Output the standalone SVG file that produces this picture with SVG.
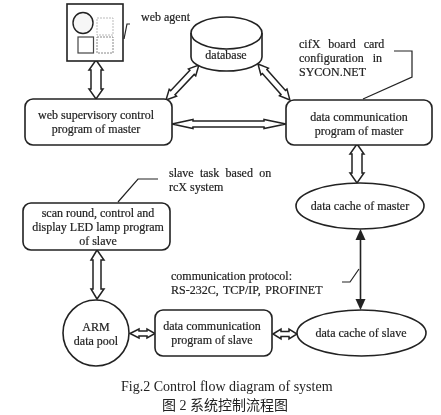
<svg xmlns="http://www.w3.org/2000/svg" width="441" height="415" viewBox="0 0 441 415">
<style>
.s{fill:none;stroke:#222;stroke-width:1.6}
.n{fill:#fff;stroke:#222;stroke-width:1.6}
.d{fill:#fff;stroke:#222;stroke-width:1.5}
.l{fill:none;stroke:#222;stroke-width:1.2}
text{font-family:"Liberation Serif","Noto Sans CJK SC",serif;font-size:12px;fill:#222;stroke:#222;stroke-width:.2}
.m{text-anchor:middle}
.c{font-size:14px;stroke-width:0}
</style>
<defs>
<filter id="b" x="-5%" y="-5%" width="110%" height="110%"><feGaussianBlur stdDeviation="0.35"/></filter>
</defs>
<rect width="441" height="415" fill="#fff"/>
<g filter="url(#b)">
<g id="connectors">
<polygon class="d" points="96,60 103,70 101,70 101,89 103,89 96,99 89,89 91,89 91,70 89,70"/>
<polygon class="d" transform="translate(166,100) rotate(-46.7)" points="0,0 10,-5 10,-3 38,-3 38,-5 48,0 38,5 38,3 10,3 10,5"/>
<polygon class="d" transform="translate(258,64) rotate(48.4)" points="0,0 10,-5 10,-3 38,-3 38,-5 48,0 38,5 38,3 10,3 10,5"/>
<polygon class="d" points="172,124 193,119.5 193,121 264,121 264,119.5 286,124 264,128.5 264,127 193,127 193,128.5"/>
<polygon class="d" points="357,144 364,154 362,154 362,173 364,173 357,183 350,173 352,173 352,154 350,154"/>
<polygon class="d" points="97,250 104,260 101,260 101,289 104,289 97,299 91,289 93,289 93,260 91,260"/>
<polygon class="d" points="130,333.5 139,329 139,331 147,331 147,329 155,333.5 147,338 147,336 139,336 139,338"/>
<polygon class="d" points="273,334 281,329 281,331.5 289,331.5 289,329 297,334 289,339 289,336.5 281,336.5 281,339"/>
<path d="M360.5 238V302" fill="none" stroke="#222" stroke-width="1.6"/>
<polygon points="360.5,229 365.5,240 355.5,240" fill="#222"/>
<polygon points="360.5,310 365.5,299 355.5,299" fill="#222"/>
<path class="l" d="M124 39L127 24H130"/>
<path class="l" d="M118 202L138 179H158"/>
<path class="l" d="M363 99L412 77V51H394"/>
<path class="l" d="M342 282H350L359 269"/>
</g>
<g id="web-agent">
<rect class="n" x="67" y="4" width="56" height="57"/>
<ellipse cx="83" cy="23" rx="10" ry="10.5" fill="#f6f6f6" stroke="#222" stroke-width="1.4"/>
<rect x="97" y="18" width="16" height="17" fill="#fff" stroke="#bbb" stroke-dasharray="2 1"/>
<rect x="78" y="37" width="15.500" height="16" fill="#fff" stroke="#444" stroke-width="1.2"/>
<rect x="97" y="37" width="16" height="16" fill="#fff" stroke="#888" stroke-dasharray="2 1"/>
<text x="141" y="21">web agent</text>
</g>
<g id="database">
<path class="n" d="M191 33A35.500 16 0 0 1 262 33V57A35.500 14 0 0 1 191 57Z"/>
<path class="s" d="M191 33A35.500 16 0 0 0 262 33"/>
<text class="m" x="226" y="59">database</text>
</g>
<g id="web-supervisory">
<rect class="n" x="25" y="99" width="147" height="46" rx="8"/>
<text class="m" x="96" y="119">web supervisory control</text>
<text class="m" x="96" y="133">program of master</text>
</g>
<g id="data-comm-master">
<rect class="n" x="286" y="100" width="146" height="45" rx="8"/>
<text class="m" x="359" y="121">data communication</text>
<text class="m" x="359" y="135">program of master</text>
</g>
<g id="cifx-note">
<text x="299" y="48" word-spacing="5">cifX board card</text>
<text x="299" y="62" word-spacing="6">configuration in</text>
<text x="299" y="76">SYCON.NET</text>
</g>
<g id="slave-task-note">
<text x="169" y="177" word-spacing="3.300">slave task based on</text>
<text x="169" y="191">rcX system</text>
</g>
<g id="scan-round">
<rect class="n" x="23" y="203" width="147" height="47" rx="8"/>
<text class="m" x="98" y="217">scan round, control and</text>
<text class="m" x="98" y="231">display LED lamp program</text>
<text class="m" x="98" y="245">of slave</text>
</g>
<g id="data-cache-master">
<ellipse class="n" cx="360" cy="206" rx="64" ry="23"/>
<text class="m" x="360" y="210">data cache of master</text>
</g>
<g id="protocol-note">
<text x="171" y="280">communication protocol:</text>
<text x="171" y="294" word-spacing="1.500">RS-232C, TCP/IP, PROFINET</text>
</g>
<g id="arm-data-pool">
<circle class="n" cx="96" cy="333" r="33"/>
<text class="m" x="96" y="331">ARM</text>
<text class="m" x="96" y="345">data pool</text>
</g>
<g id="data-comm-slave">
<rect class="n" x="155" y="310" width="117" height="46" rx="8"/>
<text class="m" x="212" y="330">data communication</text>
<text class="m" x="212" y="344">program of slave</text>
</g>
<g id="data-cache-slave">
<ellipse class="n" cx="361.500" cy="333" rx="64.500" ry="23"/>
<text class="m" x="361" y="337">data cache of slave</text>
</g>
<g id="caption">
<text class="c" x="121" y="391">Fig.2 Control flow diagram of system</text>
<text class="c" x="162" y="410">图 2 系统控制流程图</text>
</g>
</g>
</svg>
